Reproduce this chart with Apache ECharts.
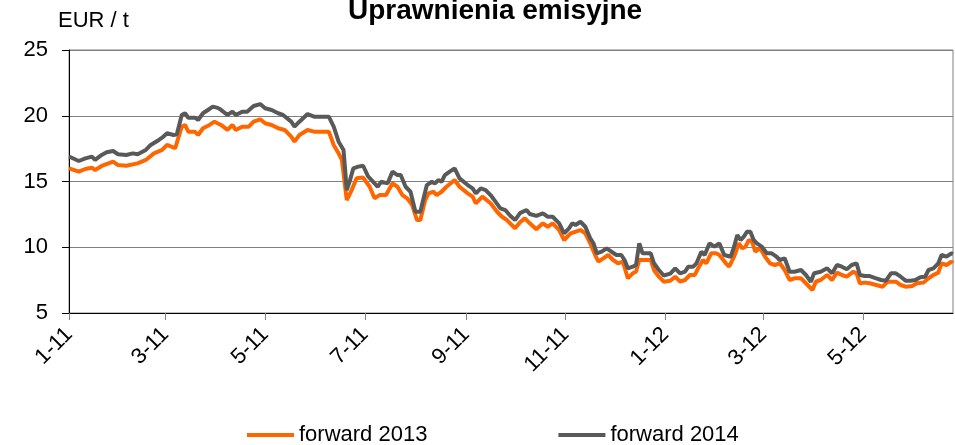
<!DOCTYPE html>
<html>
<head>
<meta charset="utf-8">
<script src="https://cdn.jsdelivr.net/npm/echarts@6/dist/echarts.min.js"></script>
<style>
  html, body { margin: 0; background: #fff; }
  #main { width: 955px; height: 445px; }
</style>
</head>
<body>
<div id="main"></div>
<script>
// os X: dni od 1 stycznia 2011
var START = Date.UTC(2011, 0, 1);
var END_DAY = 541;

var tickDates = ['2011-01-01', '2011-03-01', '2011-05-01', '2011-07-01', '2011-09-01',
                 '2011-11-01', '2012-01-01', '2012-03-01', '2012-05-01'];
var tickLabels = ['1-11', '3-11', '5-11', '7-11', '9-11', '11-11', '1-12', '3-12', '5-12'];
var yTicks = [5, 10, 15, 20, 25];

// forward 2013
var days13 = [0, 6, 10, 14, 16, 20, 27, 30, 35, 42, 47, 52, 57, 60, 65, 69, 71, 73, 77, 79,
  82, 86, 89, 93, 97, 100, 102, 106, 110, 113, 117, 120, 124, 128, 132, 136, 138, 141, 146, 150,
  154, 159, 162, 165, 167, 170, 173, 176, 180, 184, 187, 190, 194, 198, 201, 204, 207, 210, 213, 215,
  218, 220, 223, 225, 228, 231, 236, 239, 244, 247, 249, 253, 258, 262, 265, 268, 271, 273, 276, 279,
  282, 286, 290, 293, 296, 300, 303, 307, 310, 313, 316, 319, 322, 324, 327, 330, 333, 336, 339, 342,
  345, 347, 349, 354, 356, 358, 361, 364, 368, 371, 374, 377, 380, 383, 385, 388, 390, 393, 396, 398,
  402, 404, 407, 410, 412, 414, 416, 418, 420, 423, 426, 429, 432, 435, 438, 441, 444, 448, 452, 455,
  457, 460, 464, 467, 470, 473, 476, 480, 482, 484, 487, 490, 494, 498, 501, 506, 509, 512, 516, 519,
  523, 526, 529, 532, 534, 537, 540, 541];
var vals13 = [16.0, 15.75, 15.95, 16.05, 15.87, 16.18, 16.51, 16.25, 16.2, 16.38, 16.64, 17.14, 17.4, 17.78, 17.53, 19.17, 19.3, 18.79, 18.79, 18.54,
  19.05, 19.3, 19.55, 19.3, 18.92, 19.3, 18.92, 19.17, 19.17, 19.55, 19.73, 19.43, 19.3, 19.05, 18.92, 18.41, 18.03, 18.54, 18.92, 18.79,
  18.79, 18.79, 17.78, 17.14, 16.64, 13.59, 14.35, 15.24, 15.3, 14.6, 13.72, 13.97, 13.97, 14.86, 14.6, 13.97, 13.72, 13.21, 12.07, 12.07,
  13.59, 14.1, 14.22, 13.97, 14.22, 14.6, 15.11, 14.6, 14.1, 13.85, 13.34, 13.85, 13.34, 12.7, 12.32, 12.07, 11.69, 11.44, 11.9, 12.2,
  11.82, 11.37, 11.82, 11.56, 11.82, 11.31, 10.55, 11.06, 11.18, 11.31, 11.06, 10.3, 9.41, 8.9, 9.16, 9.41, 9.03, 8.78, 8.9, 7.64,
  8.02, 8.14, 9.03, 9.03, 9.03, 8.27, 7.76, 7.38, 7.45, 7.76, 7.38, 7.51, 7.89, 7.89, 8.4, 9.03, 8.78, 9.54, 9.54, 9.41,
  8.78, 8.52, 9.28, 10.3, 9.92, 10.04, 10.55, 10.43, 9.66, 9.92, 9.28, 8.78, 8.65, 8.78, 8.27, 7.51, 7.64, 7.64, 7.13, 6.75,
  7.38, 7.51, 7.89, 7.51, 8.07, 7.89, 7.76, 8.14, 8.02, 7.26, 7.31, 7.26, 7.13, 7.0, 7.38, 7.38, 7.13, 7.0, 7.05, 7.26,
  7.31, 7.64, 7.89, 8.07, 8.78, 8.65, 8.9, 8.8];

// forward 2014
var days14 = [0, 6, 10, 14, 16, 20, 23, 27, 30, 35, 39, 42, 47, 50, 55, 57, 60, 64, 66, 69,
  71, 73, 77, 79, 82, 85, 88, 91, 93, 97, 100, 102, 106, 109, 113, 117, 120, 124, 128, 131,
  136, 138, 141, 146, 150, 154, 159, 162, 165, 168, 170, 172, 174, 177, 180, 183, 187, 189, 191, 195,
  198, 201, 203, 206, 209, 212, 215, 217, 219, 222, 224, 226, 228, 230, 233, 236, 239, 244, 247, 249,
  252, 255, 258, 261, 264, 267, 270, 273, 276, 280, 282, 286, 290, 293, 296, 300, 303, 306, 308, 310,
  313, 316, 319, 321, 323, 326, 329, 332, 335, 338, 340, 342, 345, 347, 349, 351, 354, 356, 358, 361,
  364, 368, 371, 374, 377, 379, 382, 384, 387, 389, 392, 395, 398, 401, 405, 407, 409, 411, 413, 415,
  417, 419, 421, 424, 427, 430, 433, 435, 438, 441, 444, 448, 451, 454, 456, 460, 464, 467, 470, 473,
  476, 479, 482, 484, 487, 490, 494, 497, 500, 503, 506, 509, 512, 515, 518, 521, 524, 526, 529, 532,
  534, 537, 540, 541];
var vals14 = [16.9, 16.56, 16.76, 16.89, 16.64, 17.02, 17.22, 17.32, 17.07, 17.02, 17.14, 17.07, 17.4, 17.78, 18.16, 18.33, 18.67, 18.54, 18.59, 20.06,
  20.19, 19.85, 19.85, 19.68, 20.19, 20.44, 20.69, 20.6, 20.45, 20.06, 20.31, 20.06, 20.31, 20.31, 20.74, 20.89, 20.57, 20.44, 20.19, 20.06,
  19.55, 19.17, 19.55, 20.13, 19.93, 19.93, 19.93, 19.17, 18.03, 17.4, 14.35, 15.11, 16.0, 16.13, 16.2, 15.4, 14.86, 14.6, 14.98, 14.86,
  15.75, 15.49, 15.49, 14.6, 14.22, 12.7, 12.7, 13.72, 14.73, 14.98, 14.86, 15.11, 14.98, 15.49, 15.75, 16.0, 15.24, 14.73, 14.48, 14.1,
  14.48, 14.35, 13.97, 13.47, 12.96, 12.83, 12.4, 12.07, 12.6, 12.83, 12.53, 12.38, 12.58, 12.32, 12.32, 11.82, 11.06, 11.44, 11.82, 11.69,
  11.94, 11.56, 10.68, 10.3, 9.54, 9.66, 9.92, 9.66, 9.41, 9.41, 9.03, 8.4, 8.52, 8.65, 10.3, 9.54, 9.54, 9.54, 8.78, 8.27,
  7.85, 8.0, 8.4, 8.02, 8.14, 8.52, 8.52, 8.78, 9.66, 9.41, 10.3, 10.04, 10.3, 9.41, 9.28, 10.04, 10.93, 10.55, 10.81, 11.18,
  11.18, 10.55, 10.3, 10.04, 9.54, 9.54, 9.28, 9.03, 9.16, 8.14, 8.14, 8.27, 7.89, 7.38, 8.02, 8.14, 8.4, 8.02, 8.65, 8.52,
  8.33, 8.65, 8.78, 7.89, 7.81, 7.81, 7.64, 7.51, 7.46, 8.02, 8.02, 7.76, 7.46, 7.46, 7.51, 7.72, 7.76, 8.27, 8.4, 8.78,
  9.41, 9.28, 9.54, 9.5];

function dayOf(s) {
  var p = s.split('-');
  return (Date.UTC(+p[0], +p[1] - 1, +p[2]) - START) / 86400000;
}
var tickDays = tickDates.map(dayOf);

function pairs(days, vals) {
  return days.map(function (d, i) { return [d, vals[i]]; });
}

var FONT = '"Liberation Sans", Arial, sans-serif';

var option = {
  animation: false,
  backgroundColor: '#fff',
  textStyle: { fontFamily: FONT },
  title: [
    {
      text: 'Uprawnienia emisyjne',
      left: 343,
      top: -8,
      textStyle: { fontSize: 28, fontWeight: 'bold', color: '#000', fontFamily: FONT }
    },
    {
      text: 'EUR / t',
      left: 53,
      top: 5,
      textStyle: { fontSize: 22, fontWeight: 'normal', color: '#000', fontFamily: FONT }
    }
  ],
  legend: {
    left: 242,
    top: 419,
    icon: 'rect',
    itemWidth: 47,
    itemHeight: 4,
    itemGap: 131,
    textStyle: { fontSize: 22, color: '#000', fontFamily: FONT },
    data: ['forward 2013', 'forward 2014']
  },
  grid: {
    left: 69,
    right: 2,
    top: 50,
    bottom: 132,
    show: true,
    borderColor: '#808080',
    borderWidth: 1,
    outerBoundsMode: 'none'
  },
  xAxis: {
    type: 'value',
    min: 0,
    max: END_DAY,
    axisLine: { lineStyle: { color: '#000', width: 1 } },
    axisTick: {
      customValues: tickDays,
      length: 7,
      lineStyle: { color: '#808080' }
    },
    axisLabel: {
      customValues: tickDays,
      rotate: 45,
      margin: 18,
      fontSize: 22,
      color: '#000',
      fontFamily: FONT,
      formatter: function (v) {
        var i = tickDays.indexOf(v);
        return i >= 0 ? tickLabels[i] : '';
      }
    },
    splitLine: { show: false }
  },
  yAxis: {
    type: 'value',
    min: yTicks[0],
    max: yTicks[yTicks.length - 1],
    interval: 5,
    axisLine: { show: true, lineStyle: { color: '#000', width: 1 } },
    axisTick: { show: true, length: 7, lineStyle: { color: '#000' } },
    axisLabel: { fontSize: 22, color: '#000', margin: 21, fontFamily: FONT },
    splitLine: { lineStyle: { color: '#808080', width: 1 } }
  },
  series: [
    {
      name: 'forward 2013',
      type: 'line',
      showSymbol: false,
      color: '#FF6600',
      lineStyle: { width: 4, color: '#FF6600' },
      data: pairs(days13, vals13)
    },
    {
      name: 'forward 2014',
      type: 'line',
      showSymbol: false,
      color: '#595959',
      lineStyle: { width: 4, color: '#595959' },
      data: pairs(days14, vals14)
    }
  ]
};

var chart = echarts.init(document.getElementById('main'));
chart.setOption(option);
</script>
</body>
</html>
